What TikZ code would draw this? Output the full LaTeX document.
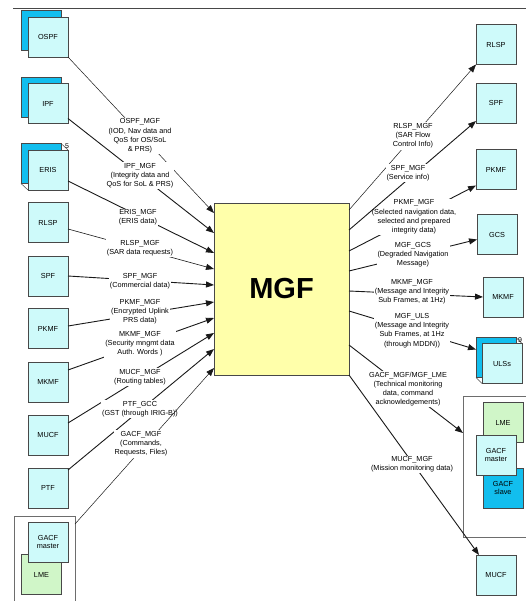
\documentclass[tikz,border=0pt]{standalone}
\usepackage{fontspec}
\setmainfont{Liberation Sans}
\usetikzlibrary{arrows.meta,calc}
\definecolor{lcyan}{RGB}{206,250,250}
\definecolor{dblue}{RGB}{18,190,238}
\definecolor{lgreen}{RGB}{208,246,200}
\definecolor{myellow}{RGB}{255,255,170}
\definecolor{bord}{RGB}{72,72,72}
\begin{document}
\begin{tikzpicture}[x=1pt,y=-1pt,
 box/.style={draw=bord, line width=0.8pt, fill=lcyan, minimum width=40pt, minimum height=40pt, inner sep=0pt, outer sep=0pt, font=\fontsize{7.3}{8.8}\selectfont, align=center},
 backbox/.style={box, fill=dblue},
 greenbox/.style={box, fill=lgreen},
 cont/.style={draw=bord!80, line width=0.6pt, fill=white, inner sep=0pt, outer sep=0pt},
 arr/.style={-{Triangle[length=8pt,width=6pt]}, line width=0.9pt, draw=black!90},
 thinarr/.style={arr, line width=0.5pt},
 lbl/.style={fill=white, inner sep=1pt, align=center, font=\fontsize{7.3}{9.2}\selectfont},
 mult/.style={font=\fontsize{7}{8}\selectfont, inner sep=0pt},
 fold/.style={draw=bord, line width=0.5pt}
 ]
\useasboundingbox (0,0) rectangle (526,601);
\clip (0,0) rectangle (526,601);
\draw[bord, line width=0.8pt] (13,8) -- (526,8);

% ---------- left boxes ----------
\node[backbox] (ospfB) at (41,30.5) {};
\node[box] (ospf) at (48,37) {OSPF};
\node[backbox] (ipfB) at (41,97) {};
\node[box] (ipf) at (48,103.5) {IPF};
\node[backbox] (erisB) at (41,163.5) {};
\node[box] (eris) at (48,170) {ERIS};
\draw[fold] (erisB.south west) -- (eris.south west);
\draw[fold] (erisB.north east) -- (eris.north east);
\node[mult] (erisN) at (67,146) {5};
\node[box] (rlspL) at (48,222.5) {RLSP};
\node[box] (spfL) at (48,276) {SPF};
\node[box] (pkmfL) at (48,328.5) {PKMF};
\node[box] (mkmfL) at (48,382) {MKMF};
\node[box] (mucfL) at (48,435) {MUCF};
\node[box] (ptf) at (48,488) {PTF};
\node[cont, minimum width=61pt, minimum height=85pt] (contL) at (44.5,558.5) {};
\node[greenbox] (lmeL) at (41.5,574.5) {LME};
\node[box] (gacfL) at (48,542) {GACF\\master};

% ---------- MGF ----------
\node[draw=bord, line width=0.9pt, fill=myellow, minimum width=135pt, minimum height=172pt, inner sep=0pt, outer sep=0pt, font=\fontsize{29}{32}\bfseries\selectfont] (mgf) at (281.5,289) {MGF};

% ---------- right boxes ----------
\node[box] (rlspR) at (496,44.5) {RLSP};
\node[box] (spfR) at (496,103) {SPF};
\node[box] (pkmfR) at (496,169.5) {PKMF};
\node[box] (gcs) at (497,234.5) {GCS};
\node[box] (mkmfR) at (503,297) {MKMF};
\node[backbox] (ulsB) at (496,357.5) {};
\node[box] (uls) at (502,363.5) {ULSs};
\draw[fold] (ulsB.south west) -- (uls.south west);
\draw[fold] (ulsB.north east) -- (uls.north east);
\node[mult] (ulsN) at (520,340) {9};
\node[cont, minimum width=72pt, minimum height=141pt] (contR) at (499,466.5) {};
\node[greenbox] (lmeR) at (503,422.5) {LME};
\node[backbox] (slave) at (503,488) {GACF\\slave};
\node[box] (gacfR) at (496,455) {GACF\\master};
\node[box] (mucfR) at (496,575) {MUCF};

% ---------- left connectors ----------
\draw[thinarr] (ospf.south east) -- ($(mgf.north west)+(0,10)$);
\node[lbl] (lOSPF) at (140,136) {OSPF\_MGF\\(IOD, Nav data and\\QoS for OS/SoL\\\& PRS)};
\draw[arr] ($(ipf.south east)+(0,-5)$) -- ($(mgf.north west)+(0,30)$);
\node[lbl] (lIPF) at (140,175.5) {IPF\_MGF\\(Integrity data and\\QoS for SoL \& PRS)};
\draw[arr] ($(eris.east)+(0,11)$) -- ($(mgf.north west)+(0,50)$);
\node[lbl] (lERIS) at (138,217.5) {ERIS\_MGF\\(ERIS data)};
\draw[arr, line width=0.6pt] ($(rlspL.east)+(0,6.5)$) -- ($(mgf.north west)+(0,66)$);
\node[lbl] (lRLSP) at (140,248) {RLSP\_MGF\\(SAR data requests)};
\draw[arr] (spfL.east) -- ($(mgf.north west)+(0,82)$);
\node[lbl] (lSPF) at (140,281) {SPF\_MGF\\(Commercial data)};
\draw[arr] ($(pkmfL.east)+(0,-2.5)$) -- ($(mgf.north west)+(0,99)$);
\node[lbl] (lPKMF) at (140,312) {PKMF\_MGF\\(Encrypted Uplink\\PRS data)};
\draw[arr] ($(mkmfL.east)+(0,-12)$) -- ($(mgf.north west)+(0,115)$);
\node[lbl] (lMKMF) at (140,344) {MKMF\_MGF\\(Security mngmt data\\Auth. Words )};
\draw[arr] ($(mucfL.east)+(0,-12)$) -- ($(mgf.north west)+(0,130)$);
\node[lbl] (lMUCF) at (140,377) {MUCF\_MGF\\(Routing tables)};
\draw[arr] ($(ptf.north east)+(0,2)$) -- ($(mgf.north west)+(0,146)$);
\node[lbl] (lPTF) at (140,409) {PTF\_GCC\\(GST (through IRIG-B))};
\draw[thinarr] ($(contL.north east)+(0,8)$) -- ($(mgf.north west)+(0,165)$);
\node[lbl] (lGACF) at (141,444) {GACF\_MGF\\(Commands,\\Requests, Files)};

% ---------- right connectors ----------
\draw[thinarr] ($(mgf.north east)+(0,7)$) -- (rlspR.south west);
\node[lbl] (rRLSP) at (413,136) {RLSP\_MGF\\(SAR Flow\\Control Info)};
\draw[arr] ($(mgf.north east)+(0,48)$) -- ($(pkmfR.south west)+(0,-4)$);
\node[lbl] (rPKMF) at (414,217) {PKMF\_MGF\\(Selected navigation data,\\selected and prepared\\integrity data)};
\draw[arr] ($(mgf.north east)+(0,27)$) -- ($(spfR.south west)+(0,-2)$);
\node[lbl] (rSPF) at (408,173) {SPF\_MGF\\(Service info)};
\draw[arr] ($(mgf.north east)+(0,68)$) -- ($(gcs.west)+(0,5)$);
\node[lbl] (rGCS) at (413,255) {MGF\_GCS\\(Degraded Navigation\\Message)};
\draw[arr] ($(mgf.north east)+(0,88)$) -- (mkmfR.west);
\node[lbl] (rMKMF) at (412,292) {MKMF\_MGF\\(Message and Integrity\\Sub Frames, at 1Hz)};
\draw[arr] ($(mgf.north east)+(0,108)$) -- ($(ulsB.north west)+(0,12)$);
\node[lbl] (rULS) at (412,330.5) {MGF\_ULS\\(Message and Integrity\\Sub Frames, at 1Hz\\(through MDDN))};
\draw[arr] ($(mgf.north east)+(0,142)$) -- ($(contR.north west)+(0,37)$);
\node[lbl] (rLME) at (408,389) {GACF\_MGF/MGF\_LME\\(Technical monitoring\\data, command\\acknowledgements)};
\draw[arr] (mgf.south east) -- ($(mucfR.north west)+(3,0)$);
\node[lbl] (rMUCF) at (412,464.5) {MUCF\_MGF\\(Mission monitoring data)};
\end{tikzpicture}
\end{document}
